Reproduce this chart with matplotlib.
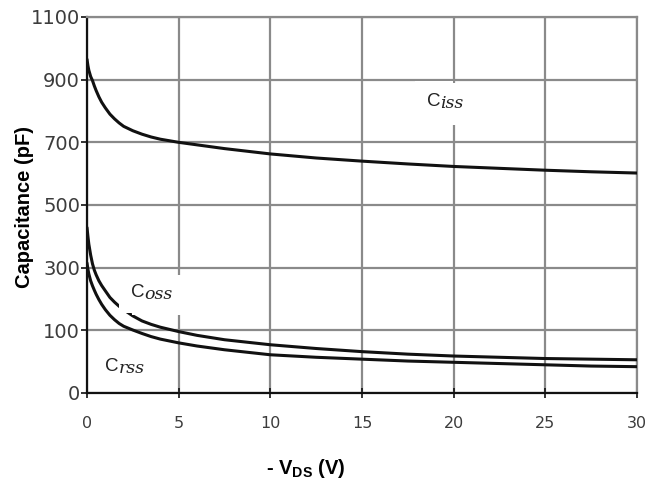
import numpy as np
import matplotlib
matplotlib.use("Agg")
import matplotlib.pyplot as plt

plt.rcParams['font.family'] = ['Liberation Sans', 'DejaVu Sans']
plt.rcParams['mathtext.fontset'] = 'custom'
plt.rcParams['mathtext.rm'] = 'Liberation Sans'
plt.rcParams['mathtext.bf'] = 'Liberation Sans:bold'

# ---- data ----
vds = [0, 0.05, 0.1, 0.2, 0.3, 0.4, 0.5, 0.65, 0.8, 1.0, 1.25, 1.5, 1.75,
       2.0, 2.5, 3.0, 3.5, 4.0, 5.0, 6.0, 7.5, 10, 12.5, 15, 17.5, 20,
       22.5, 25, 27.5, 30]
ciss = [965, 945, 930, 910, 897, 880, 865, 845, 828, 810, 790, 775, 762,
        751, 737, 726, 717, 710, 700, 692, 680, 663, 650, 640, 631, 623,
        617, 611, 606, 602]
coss = [428, 400, 375, 340, 312, 292, 277, 258, 243, 226, 205, 190, 177,
        166, 146, 130, 119, 110, 98, 92, 85, 77, 71, 66, 62, 59,
        57, 55, 54, 53]
crss = [315, 295, 280, 258, 242, 228, 215, 198, 183, 166, 148, 134, 122,
        113, 101, 95, 90, 86, 80, 75, 69, 61, 57, 54, 51, 49,
        47, 45, 43, 42]

x_ticks = [0, 5, 10, 15, 20, 25, 30]
y_ticks = [0, 100, 300, 500, 700, 900, 1100]

labels = {
    'iss': (18.55, 830, 9),
    'oss': (2.4, 220, 8.5),
    'rss': (1.0, 42, 6),
}

# piecewise y scale: 0-100 one grid step, then 200 per grid step
def fwd(v):
    v = np.asarray(v, dtype=float)
    return np.where(v <= 100, v / 100.0, 1 + (v - 100) / 200.0)

def inv(p):
    p = np.asarray(p, dtype=float)
    return np.where(p <= 1, p * 100.0, 100 + (p - 1) * 200.0)

fig = plt.figure(figsize=(6.49, 4.83), dpi=100)
ax = fig.add_axes([87/649, 1 - 393/483, (637-87)/649, (393-17)/483])
ax.set_yscale('function', functions=(fwd, inv))
ax.set_xlim(0, 30)
ax.set_ylim(0, 1100)
ax.set_xticks(x_ticks)
ax.set_yticks(y_ticks)
ax.set_yticklabels([str(t) for t in y_ticks])
ax.minorticks_off()

grid_c = '#8a8a8a'
ax.grid(True, color=grid_c, lw=1.6, zorder=0)
ax.set_axisbelow(True)
for s in ['top', 'right']:
    ax.spines[s].set_color(grid_c)
    ax.spines[s].set_linewidth(1.6)
for s in ['left', 'bottom']:
    ax.spines[s].set_color('#111111')
    ax.spines[s].set_linewidth(1.6)

ax.tick_params(axis='y', direction='out', length=4.5, width=1.2, pad=0.5,
               labelsize=14, labelcolor='#3c3c3c', color='#111111')
ax.tick_params(axis='x', direction='inout', length=7, width=1.2, pad=13,
               labelsize=11.5, labelcolor='#3c3c3c', color='#111111')
for lab in ax.get_xticklabels() + ax.get_yticklabels():
    lab.set_family('DejaVu Sans')

for y in (ciss, coss, crss):
    ax.plot(vds, y, color='#111111', lw=2.2, zorder=3, solid_capstyle='round')

for suf, (lx, ly, pd) in labels.items():
    # white background boxes
    ax.text(lx, ly, 'C', fontsize=13.5, family='Liberation Sans',
            color='white', ha='left', va='center', zorder=4.5,
            bbox=dict(facecolor='white', edgecolor='none', pad=pd))
    ax.annotate(suf, xy=(lx, ly), xytext=(9.5, -1.5), textcoords='offset points',
                fontsize=12.5, family='DejaVu Serif', style='italic',
                color='#222222', ha='left', va='center', zorder=5,
                bbox=dict(facecolor='white', edgecolor='none', pad=pd))
    ax.text(lx, ly, 'C', fontsize=13.5, family='Liberation Sans',
            color='#222222', ha='left', va='center', zorder=6)

fig.text(24/649, 1 - 207/483, 'Capacitance (pF)', fontsize=14.5,
         fontweight='bold', rotation=90, ha='center', va='center')
fig.text(306/649, 1 - 468/483, r'- V$_{\mathbf{DS}}$ (V)', fontsize=14.5,
         fontweight='bold', ha='center', va='center')

fig.savefig('out.png', dpi=100)
